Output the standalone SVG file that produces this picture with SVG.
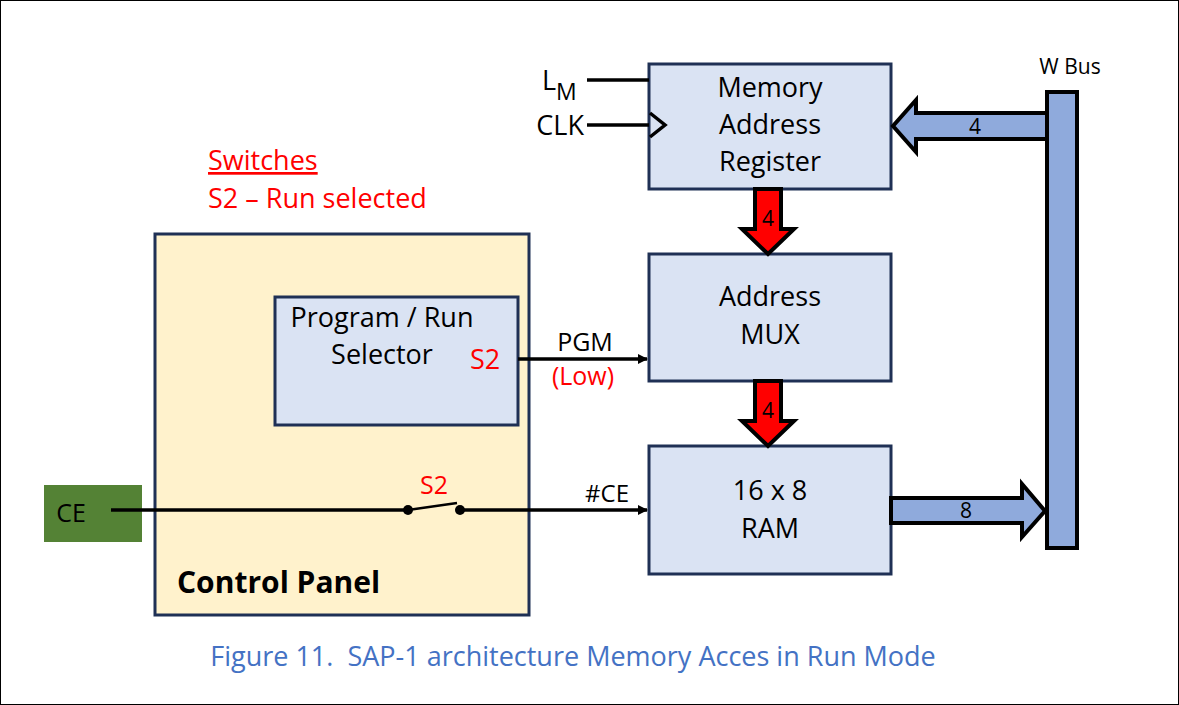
<svg xmlns="http://www.w3.org/2000/svg" width="1179" height="705" viewBox="0 0 1179 705">
<style>
text{font-family:"Open Sans","Noto Sans","Liberation Sans",sans-serif;fill:#000;white-space:pre}
.blk{fill:#DAE3F3;stroke:#1F3055;stroke-width:3}
.t{font-size:27px;text-anchor:middle}
.wire{stroke:#000;stroke-width:3.5;fill:none}
.bus{fill:#8FAADC;stroke:#000;stroke-width:4;stroke-linejoin:miter}
.rbus{fill:#FF0000;stroke:#000;stroke-width:4;stroke-linejoin:miter}
.n{font-size:21px;text-anchor:middle}
</style>
<defs>
<marker id="ah" markerWidth="10" markerHeight="10" refX="9" refY="5" orient="auto" markerUnits="userSpaceOnUse" viewBox="0 0 10 10">
<path d="M0,0 L10,5 L0,10 z" fill="#000"/>
</marker>
</defs>
<rect x="0.5" y="0.5" width="1178" height="704" fill="#fff" stroke="#000" stroke-width="1"/>

<g id="title">
<text x="208" y="170" font-size="27" text-decoration="underline" style="fill:#FF0000">Switches</text>
<text x="208" y="208" font-size="27" style="fill:#FF0000">S2 – Run selected</text>
</g>

<g id="control-panel">
<rect x="155" y="234" width="374" height="381" fill="#FFF2CC" stroke="#1F3055" stroke-width="3"/>
<text x="177" y="593" font-size="30" font-weight="bold">Control Panel</text>
</g>

<g id="selector">
<rect class="blk" x="275" y="297" width="243" height="128"/>
<text x="382" y="327" class="t">Program / Run</text>
<text x="382" y="364" class="t">Selector</text>
<text x="485" y="369" class="t" style="fill:#FF0000">S2</text>
</g>

<g id="ce">
<rect x="44" y="485" width="98" height="57" fill="#548235"/>
<text x="71" y="522" class="t" style="font-size:25px">CE</text>
</g>

<g id="mar">
<rect class="blk" x="649" y="64" width="242" height="125"/>
<text x="770" y="97" class="t">Memory</text>
<text x="770" y="134" class="t">Address</text>
<text x="770" y="171" class="t">Register</text>
</g>

<g id="mux">
<rect class="blk" x="649" y="254" width="242" height="127"/>
<text x="770" y="306" class="t">Address</text>
<text x="770" y="344" class="t">MUX</text>
</g>

<g id="ram">
<rect class="blk" x="649" y="446" width="242" height="128"/>
<text x="770" y="500" class="t">16 x 8</text>
<text x="770" y="538" class="t">RAM</text>
</g>

<g id="wbus">
<rect class="bus" x="1047" y="92" width="30" height="456"/>
<text x="1070" y="74" font-size="21" text-anchor="middle">W Bus</text>
</g>

<g id="connectors">
<line class="wire" x1="587" y1="80" x2="649" y2="80"/>
<text x="542" y="90" font-size="27">L</text>
<text x="556" y="100" font-size="23">M</text>
<line class="wire" x1="587" y1="125" x2="649" y2="125"/>
<text x="584" y="135" font-size="27" text-anchor="end">CLK</text>
<path d="M650,113 L665,125 L650,137" fill="none" stroke="#000" stroke-width="3.5"/>

<path class="bus" d="M1047,113 L916,113 L916,100 L893,126 L916,152 L916,139 L1047,139 z"/>
<text x="975" y="134" class="n">4</text>

<path class="bus" d="M891,498 L1022,498 L1022,484 L1045,511 L1022,537 L1022,523 L891,523 z"/>
<text x="966" y="518" class="n">8</text>

<path class="rbus" d="M755,189 L755,229 L742,229 L768,254 L794,229 L781,229 L781,189 z"/>
<text x="768" y="226" class="n">4</text>
<path class="rbus" d="M755,381 L755,421 L742,421 L768,446 L794,421 L781,421 L781,381 z"/>
<text x="768" y="418" class="n">4</text>

<line class="wire" x1="518" y1="359" x2="647" y2="359" marker-end="url(#ah)"/>
<text x="585" y="351" class="t" style="font-size:25px">PGM</text>
<text x="583" y="385" class="t" style="font-size:25px;fill:#FF0000">(Low)</text>

<line class="wire" x1="111" y1="510" x2="408" y2="510"/>
<line x1="408" y1="510" x2="457" y2="503" stroke="#000" stroke-width="2.5"/>
<circle cx="408" cy="510" r="5" fill="#000"/>
<circle cx="460" cy="510" r="5" fill="#000"/>
<line class="wire" x1="460" y1="510" x2="647" y2="510" marker-end="url(#ah)"/>
<text x="434" y="494" class="t" style="fill:#FF0000;font-size:25px">S2</text>
<text x="607" y="502" class="t" style="font-size:24px">#CE</text>
</g>

<g id="caption">
<text x="573" y="666" font-size="27" text-anchor="middle" style="fill:#4472C4">Figure 11.  SAP-1 architecture Memory Acces in Run Mode</text>
</g>
</svg>
